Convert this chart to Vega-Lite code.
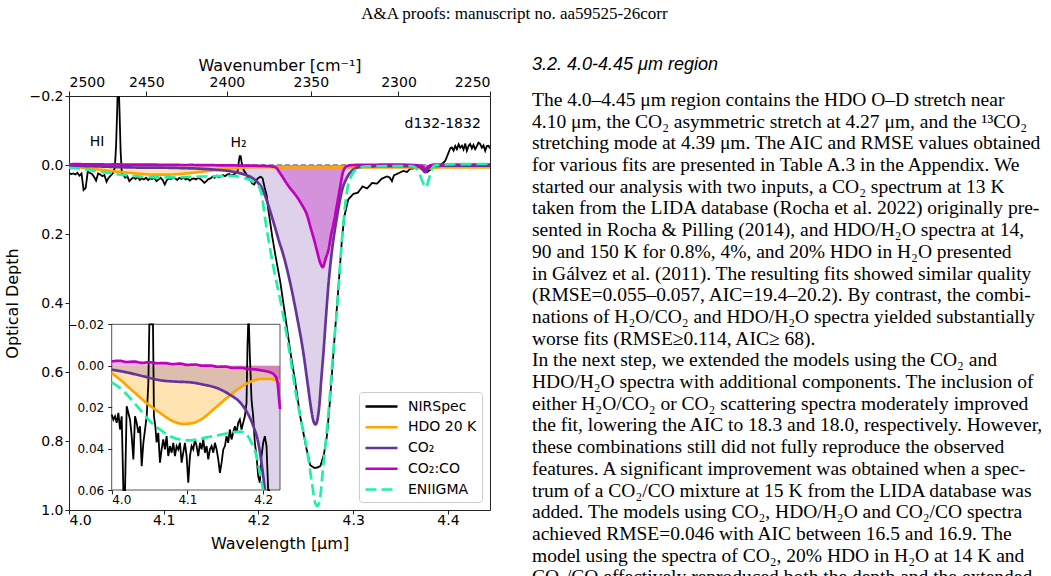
{
  "$schema": "https://vega.github.io/schema/vega-lite/v6.json",
  "background": "white",
  "padding": {"left": 3, "top": 4, "right": 0, "bottom": 0},
  "title": {"text": "A&A proofs: manuscript no. aa59525-26corr", "font": "Liberation Serif", "fontSize": 17, "fontWeight": "normal", "anchor": "middle", "offset": 33, "dx": -9, "color": "#000"},
  "spacing": 40,
  "resolve": {"scale": {"color": "independent", "strokeDash": "independent"}, "legend": {"color": "independent", "strokeDash": "independent"}},
  "datasets": {
    "spectra": [
      {"series":"NIRSpec","wl":4.0,"od":0.0236},{"series":"NIRSpec","wl":4.0022,"od":0.026},{"series":"NIRSpec","wl":4.0044,"od":0.0244},{"series":"NIRSpec","wl":4.0066,"od":0.0276},{"series":"NIRSpec","wl":4.0088,"od":0.0228},{"series":"NIRSpec","wl":4.011,"od":0.0308},{"series":"NIRSpec","wl":4.0132,"od":0.0244},{"series":"NIRSpec","wl":4.0154,"od":0.0725},{"series":"NIRSpec","wl":4.0176,"od":0.066},{"series":"NIRSpec","wl":4.0198,"od":0.0196},{"series":"NIRSpec","wl":4.022,"od":0.0228},{"series":"NIRSpec","wl":4.0242,"od":0.026},{"series":"NIRSpec","wl":4.0264,"od":0.034},{"series":"NIRSpec","wl":4.0286,"od":0.0452},{"series":"NIRSpec","wl":4.0308,"od":0.0244},{"series":"NIRSpec","wl":4.033,"od":0.0276},{"series":"NIRSpec","wl":4.0352,"od":0.0324},{"series":"NIRSpec","wl":4.0374,"od":0.0292},{"series":"NIRSpec","wl":4.0396,"od":0.0485},{"series":"NIRSpec","wl":4.0418,"od":0.0372},{"series":"NIRSpec","wl":4.044,"od":0.0308},{"series":"NIRSpec","wl":4.0462,"od":0.0244},{"series":"NIRSpec","wl":4.0484,"od":0.0083},{"series":"NIRSpec","wl":4.0497,"od":-0.056},{"series":"NIRSpec","wl":4.051,"od":-0.17},{"series":"NIRSpec","wl":4.0519,"od":-0.28},{"series":"NIRSpec","wl":4.0532,"od":-0.17},{"series":"NIRSpec","wl":4.0545,"od":-0.04},{"series":"NIRSpec","wl":4.0558,"od":0.0244},{"series":"NIRSpec","wl":4.0576,"od":0.0292},{"series":"NIRSpec","wl":4.0593,"od":0.037},{"series":"NIRSpec","wl":4.0615,"od":0.0324},{"series":"NIRSpec","wl":4.0637,"od":0.0468},{"series":"NIRSpec","wl":4.0659,"od":0.0404},{"series":"NIRSpec","wl":4.0681,"od":0.0356},{"series":"NIRSpec","wl":4.0703,"od":0.0404},{"series":"NIRSpec","wl":4.0725,"od":0.034},{"series":"NIRSpec","wl":4.0747,"od":0.0436},{"series":"NIRSpec","wl":4.0769,"od":0.0388},{"series":"NIRSpec","wl":4.0791,"od":0.042},{"series":"NIRSpec","wl":4.0813,"od":0.0372},{"series":"NIRSpec","wl":4.0835,"od":0.0436},{"series":"NIRSpec","wl":4.0857,"od":0.0388},{"series":"NIRSpec","wl":4.0879,"od":0.0404},{"series":"NIRSpec","wl":4.0901,"od":0.0372},{"series":"NIRSpec","wl":4.0923,"od":0.0468},{"series":"NIRSpec","wl":4.0945,"od":0.042},{"series":"NIRSpec","wl":4.0967,"od":0.0372},{"series":"NIRSpec","wl":4.0989,"od":0.0436},{"series":"NIRSpec","wl":4.1011,"od":0.0565},{"series":"NIRSpec","wl":4.1033,"od":0.0436},{"series":"NIRSpec","wl":4.1055,"od":0.0388},{"series":"NIRSpec","wl":4.1077,"od":0.0404},{"series":"NIRSpec","wl":4.1099,"od":0.0356},{"series":"NIRSpec","wl":4.1121,"od":0.0388},{"series":"NIRSpec","wl":4.1143,"od":0.0436},{"series":"NIRSpec","wl":4.1165,"od":0.0372},{"series":"NIRSpec","wl":4.1187,"od":0.0404},{"series":"NIRSpec","wl":4.1209,"od":0.0356},{"series":"NIRSpec","wl":4.1231,"od":0.042},{"series":"NIRSpec","wl":4.1253,"od":0.0388},{"series":"NIRSpec","wl":4.1275,"od":0.0452},{"series":"NIRSpec","wl":4.1297,"od":0.0404},{"series":"NIRSpec","wl":4.1319,"od":0.0388},{"series":"NIRSpec","wl":4.1341,"od":0.042},{"series":"NIRSpec","wl":4.1363,"od":0.0372},{"series":"NIRSpec","wl":4.1385,"od":0.0404},{"series":"NIRSpec","wl":4.1407,"od":0.0452},{"series":"NIRSpec","wl":4.1429,"od":0.0517},{"series":"NIRSpec","wl":4.1451,"od":0.0468},{"series":"NIRSpec","wl":4.1473,"od":0.0404},{"series":"NIRSpec","wl":4.1495,"od":0.0388},{"series":"NIRSpec","wl":4.1516,"od":0.034},{"series":"NIRSpec","wl":4.1538,"od":0.0372},{"series":"NIRSpec","wl":4.156,"od":0.0308},{"series":"NIRSpec","wl":4.1582,"od":0.0356},{"series":"NIRSpec","wl":4.1604,"od":0.0324},{"series":"NIRSpec","wl":4.1626,"od":0.0292},{"series":"NIRSpec","wl":4.1648,"od":0.0324},{"series":"NIRSpec","wl":4.167,"od":0.0276},{"series":"NIRSpec","wl":4.1692,"od":0.026},{"series":"NIRSpec","wl":4.1714,"od":0.0308},{"series":"NIRSpec","wl":4.1736,"od":0.0276},{"series":"NIRSpec","wl":4.1758,"od":0.0244},{"series":"NIRSpec","wl":4.178,"od":0.018},{"series":"NIRSpec","wl":4.1793,"od":-0.01},{"series":"NIRSpec","wl":4.1802,"od":-0.026},{"series":"NIRSpec","wl":4.1812,"od":-0.026},{"series":"NIRSpec","wl":4.1824,"od":-0.005},{"series":"NIRSpec","wl":4.1846,"od":0.0164},{"series":"NIRSpec","wl":4.1868,"od":0.0244},{"series":"NIRSpec","wl":4.189,"od":0.0372},{"series":"NIRSpec","wl":4.1912,"od":0.0436},{"series":"NIRSpec","wl":4.1934,"od":0.0533},{"series":"NIRSpec","wl":4.1956,"od":0.0565},{"series":"NIRSpec","wl":4.1978,"od":0.0436},{"series":"NIRSpec","wl":4.2,"od":0.0372},{"series":"NIRSpec","wl":4.2022,"od":0.034},{"series":"NIRSpec","wl":4.2044,"od":0.0388},{"series":"NIRSpec","wl":4.2066,"od":0.066},{"series":"NIRSpec","wl":4.2088,"od":0.089},{"series":"NIRSpec","wl":4.2104,"od":0.13},{"series":"NIRSpec","wl":4.2126,"od":0.17},{"series":"NIRSpec","wl":4.2147,"od":0.21},{"series":"NIRSpec","wl":4.2178,"od":0.26},{"series":"NIRSpec","wl":4.2231,"od":0.34},{"series":"NIRSpec","wl":4.2284,"od":0.44},{"series":"NIRSpec","wl":4.2336,"od":0.54},{"series":"NIRSpec","wl":4.2389,"od":0.63},{"series":"NIRSpec","wl":4.2442,"od":0.73},{"series":"NIRSpec","wl":4.2505,"od":0.82},{"series":"NIRSpec","wl":4.2547,"od":0.87},{"series":"NIRSpec","wl":4.2589,"od":0.878},{"series":"NIRSpec","wl":4.2621,"od":0.877},{"series":"NIRSpec","wl":4.2653,"od":0.873},{"series":"NIRSpec","wl":4.269,"od":0.84},{"series":"NIRSpec","wl":4.2722,"od":0.787},{"series":"NIRSpec","wl":4.2753,"od":0.69},{"series":"NIRSpec","wl":4.278,"od":0.59},{"series":"NIRSpec","wl":4.2806,"od":0.49},{"series":"NIRSpec","wl":4.2832,"od":0.4},{"series":"NIRSpec","wl":4.2859,"od":0.3},{"series":"NIRSpec","wl":4.288,"od":0.22},{"series":"NIRSpec","wl":4.2906,"od":0.15},{"series":"NIRSpec","wl":4.2948,"od":0.1},{"series":"NIRSpec","wl":4.3001,"od":0.084},{"series":"NIRSpec","wl":4.305,"od":0.08},{"series":"NIRSpec","wl":4.31,"od":0.062},{"series":"NIRSpec","wl":4.3146,"od":0.068},{"series":"NIRSpec","wl":4.32,"od":0.052},{"series":"NIRSpec","wl":4.3251,"od":0.054},{"series":"NIRSpec","wl":4.33,"od":0.04},{"series":"NIRSpec","wl":4.3357,"od":0.033},{"series":"NIRSpec","wl":4.3385,"od":0.036},{"series":"NIRSpec","wl":4.3409,"od":0.047},{"series":"NIRSpec","wl":4.343,"od":0.03},{"series":"NIRSpec","wl":4.3462,"od":0.026},{"series":"NIRSpec","wl":4.35,"od":0.021},{"series":"NIRSpec","wl":4.3532,"od":0.017},{"series":"NIRSpec","wl":4.357,"od":0.02},{"series":"NIRSpec","wl":4.3602,"od":0.011},{"series":"NIRSpec","wl":4.364,"od":0.01},{"series":"NIRSpec","wl":4.3673,"od":0.006},{"series":"NIRSpec","wl":4.3726,"od":0.012},{"series":"NIRSpec","wl":4.3779,"od":0.021},{"series":"NIRSpec","wl":4.3848,"od":0.007},{"series":"NIRSpec","wl":4.3919,"od":0.002},{"series":"NIRSpec","wl":4.3972,"od":-0.012},{"series":"NIRSpec","wl":4.4007,"od":-0.036},{"series":"NIRSpec","wl":4.4025,"od":-0.048},{"series":"NIRSpec","wl":4.4042,"od":-0.051},{"series":"NIRSpec","wl":4.406,"od":-0.042},{"series":"NIRSpec","wl":4.4078,"od":-0.055},{"series":"NIRSpec","wl":4.4095,"od":-0.046},{"series":"NIRSpec","wl":4.4113,"od":-0.06},{"series":"NIRSpec","wl":4.413,"od":-0.05},{"series":"NIRSpec","wl":4.4148,"od":-0.056},{"series":"NIRSpec","wl":4.4165,"od":-0.045},{"series":"NIRSpec","wl":4.4183,"od":-0.062},{"series":"NIRSpec","wl":4.42,"od":-0.041},{"series":"NIRSpec","wl":4.4218,"od":-0.055},{"series":"NIRSpec","wl":4.4235,"od":-0.061},{"series":"NIRSpec","wl":4.4253,"od":-0.048},{"series":"NIRSpec","wl":4.427,"od":-0.058},{"series":"NIRSpec","wl":4.4288,"od":-0.046},{"series":"NIRSpec","wl":4.4305,"od":-0.054},{"series":"NIRSpec","wl":4.4323,"od":-0.065},{"series":"NIRSpec","wl":4.4341,"od":-0.061},{"series":"NIRSpec","wl":4.4358,"od":-0.05},{"series":"NIRSpec","wl":4.4376,"od":-0.057},{"series":"NIRSpec","wl":4.4394,"od":-0.041},{"series":"NIRSpec","wl":4.4411,"od":-0.055},{"series":"NIRSpec","wl":4.4429,"od":-0.056},{"series":"NIRSpec","wl":4.4444,"od":-0.048},

      {"series":"HDO 20 K","wl":4.0,"od":0.0035},{"series":"HDO 20 K","wl":4.011,"od":0.0067},{"series":"HDO 20 K","wl":4.0286,"od":0.0124},{"series":"HDO 20 K","wl":4.046,"od":0.018},{"series":"HDO 20 K","wl":4.064,"od":0.0228},{"series":"HDO 20 K","wl":4.081,"od":0.0268},{"series":"HDO 20 K","wl":4.095,"od":0.0281},{"series":"HDO 20 K","wl":4.108,"od":0.0276},{"series":"HDO 20 K","wl":4.121,"od":0.0252},{"series":"HDO 20 K","wl":4.134,"od":0.0212},{"series":"HDO 20 K","wl":4.152,"od":0.0156},{"series":"HDO 20 K","wl":4.169,"od":0.0107},{"series":"HDO 20 K","wl":4.182,"od":0.008},{"series":"HDO 20 K","wl":4.196,"od":0.0064},{"series":"HDO 20 K","wl":4.209,"od":0.0064},{"series":"HDO 20 K","wl":4.2176,"od":0.007},{"series":"HDO 20 K","wl":4.2222,"od":0.0072},{"series":"HDO 20 K","wl":4.26,"od":0.0072},{"series":"HDO 20 K","wl":4.3,"od":0.007},{"series":"HDO 20 K","wl":4.36,"od":0.007},{"series":"HDO 20 K","wl":4.372,"od":0.008},{"series":"HDO 20 K","wl":4.377,"od":0.011},{"series":"HDO 20 K","wl":4.382,"od":0.008},{"series":"HDO 20 K","wl":4.4,"od":0.007},{"series":"HDO 20 K","wl":4.4444,"od":0.007},

      {"series":"CO₂","wl":4.0,"od":0.0019},{"series":"CO₂","wl":4.0198,"od":0.0032},{"series":"CO₂","wl":4.0418,"od":0.0051},{"series":"CO₂","wl":4.0637,"od":0.007},{"series":"CO₂","wl":4.0857,"od":0.0077},{"series":"CO₂","wl":4.1033,"od":0.008},{"series":"CO₂","wl":4.1209,"od":0.0091},{"series":"CO₂","wl":4.1385,"od":0.0107},{"series":"CO₂","wl":4.156,"od":0.014},{"series":"CO₂","wl":4.1692,"od":0.0176},{"series":"CO₂","wl":4.178,"od":0.022},{"series":"CO₂","wl":4.1868,"od":0.029},{"series":"CO₂","wl":4.1934,"od":0.037},{"series":"CO₂","wl":4.1978,"od":0.047},{"series":"CO₂","wl":4.2,"od":0.053},{"series":"CO₂","wl":4.2022,"od":0.06},{"series":"CO₂","wl":4.205,"od":0.075},{"series":"CO₂","wl":4.21,"od":0.113},{"series":"CO₂","wl":4.2143,"od":0.151},{"series":"CO₂","wl":4.2185,"od":0.19},{"series":"CO₂","wl":4.2222,"od":0.225},{"series":"CO₂","wl":4.2249,"od":0.248},{"series":"CO₂","wl":4.2336,"od":0.343},{"series":"CO₂","wl":4.2407,"od":0.44},{"series":"CO₂","wl":4.247,"od":0.537},{"series":"CO₂","wl":4.2519,"od":0.633},{"series":"CO₂","wl":4.2558,"od":0.71},{"series":"CO₂","wl":4.258,"od":0.742},{"series":"CO₂","wl":4.2603,"od":0.752},{"series":"CO₂","wl":4.2625,"od":0.735},{"series":"CO₂","wl":4.2645,"od":0.69},{"series":"CO₂","wl":4.266,"od":0.633},{"series":"CO₂","wl":4.2688,"od":0.537},{"series":"CO₂","wl":4.2713,"od":0.44},{"series":"CO₂","wl":4.274,"od":0.343},{"series":"CO₂","wl":4.2776,"od":0.248},{"series":"CO₂","wl":4.2829,"od":0.151},{"series":"CO₂","wl":4.2882,"od":0.074},{"series":"CO₂","wl":4.2935,"od":0.036},{"series":"CO₂","wl":4.2987,"od":0.017},{"series":"CO₂","wl":4.304,"od":0.008},{"series":"CO₂","wl":4.3146,"od":0.004},{"series":"CO₂","wl":4.36,"od":0.003},{"series":"CO₂","wl":4.3708,"od":0.006},{"series":"CO₂","wl":4.3761,"od":0.021},{"series":"CO₂","wl":4.3792,"od":0.01},{"series":"CO₂","wl":4.3831,"od":0.003},{"series":"CO₂","wl":4.4,"od":0.002},{"series":"CO₂","wl":4.4444,"od":0.002},

      {"series":"CO₂:CO","wl":4.0,"od":-0.0021},{"series":"CO₂:CO","wl":4.01,"od":-0.0024},{"series":"CO₂:CO","wl":4.02,"od":-0.0018},{"series":"CO₂:CO","wl":4.03,"od":-0.002},{"series":"CO₂:CO","wl":4.04,"od":-0.0014},{"series":"CO₂:CO","wl":4.05,"od":-0.0017},{"series":"CO₂:CO","wl":4.06,"od":-0.0012},{"series":"CO₂:CO","wl":4.07,"od":-0.0013},{"series":"CO₂:CO","wl":4.08,"od":-0.0008},{"series":"CO₂:CO","wl":4.09,"od":-0.001},{"series":"CO₂:CO","wl":4.1,"od":-0.0004},{"series":"CO₂:CO","wl":4.11,"od":-0.0006},{"series":"CO₂:CO","wl":4.12,"od":0.0},{"series":"CO₂:CO","wl":4.13,"od":-0.0001},{"series":"CO₂:CO","wl":4.14,"od":0.0005},{"series":"CO₂:CO","wl":4.15,"od":0.0004},{"series":"CO₂:CO","wl":4.16,"od":0.0011},{"series":"CO₂:CO","wl":4.17,"od":0.001},{"series":"CO₂:CO","wl":4.18,"od":0.0016},{"series":"CO₂:CO","wl":4.19,"od":0.0018},{"series":"CO₂:CO","wl":4.2,"od":0.0024},{"series":"CO₂:CO","wl":4.205,"od":0.0027},{"series":"CO₂:CO","wl":4.21,"od":0.0033},{"series":"CO₂:CO","wl":4.2132,"od":0.0039},{"series":"CO₂:CO","wl":4.2155,"od":0.0048},{"series":"CO₂:CO","wl":4.2176,"od":0.006},{"series":"CO₂:CO","wl":4.2195,"od":0.01},{"series":"CO₂:CO","wl":4.2207,"od":0.015},{"series":"CO₂:CO","wl":4.2222,"od":0.021},{"series":"CO₂:CO","wl":4.2302,"od":0.055},{"series":"CO₂:CO","wl":4.2447,"od":0.11},{"series":"CO₂:CO","wl":4.2519,"od":0.15},{"series":"CO₂:CO","wl":4.2549,"od":0.18},{"series":"CO₂:CO","wl":4.2591,"od":0.22},{"series":"CO₂:CO","wl":4.2619,"od":0.25},{"series":"CO₂:CO","wl":4.2654,"od":0.285},{"series":"CO₂:CO","wl":4.2678,"od":0.296},{"series":"CO₂:CO","wl":4.2711,"od":0.27},{"series":"CO₂:CO","wl":4.274,"od":0.245},{"series":"CO₂:CO","wl":4.2769,"od":0.2},{"series":"CO₂:CO","wl":4.2793,"od":0.17},{"series":"CO₂:CO","wl":4.2836,"od":0.105},{"series":"CO₂:CO","wl":4.2865,"od":0.06},{"series":"CO₂:CO","wl":4.2893,"od":0.02},{"series":"CO₂:CO","wl":4.2935,"od":0.003},{"series":"CO₂:CO","wl":4.3,"od":0.0},{"series":"CO₂:CO","wl":4.35,"od":-0.001},{"series":"CO₂:CO","wl":4.372,"od":0.002},{"series":"CO₂:CO","wl":4.3765,"od":0.012},{"series":"CO₂:CO","wl":4.3795,"od":0.004},{"series":"CO₂:CO","wl":4.385,"od":-0.001},{"series":"CO₂:CO","wl":4.4444,"od":-0.001},

      {"series":"ENIIGMA","wl":4.0,"od":0.008},{"series":"ENIIGMA","wl":4.011,"od":0.0107},{"series":"ENIIGMA","wl":4.0242,"od":0.0156},{"series":"ENIIGMA","wl":4.0374,"od":0.0212},{"series":"ENIIGMA","wl":4.0505,"od":0.0268},{"series":"ENIIGMA","wl":4.0637,"od":0.0308},{"series":"ENIIGMA","wl":4.0769,"od":0.034},{"series":"ENIIGMA","wl":4.0901,"od":0.0356},{"series":"ENIIGMA","wl":4.1033,"od":0.036},{"series":"ENIIGMA","wl":4.1165,"od":0.0353},{"series":"ENIIGMA","wl":4.1297,"od":0.0343},{"series":"ENIIGMA","wl":4.1429,"od":0.0334},{"series":"ENIIGMA","wl":4.156,"od":0.0324},{"series":"ENIIGMA","wl":4.1692,"od":0.0318},{"series":"ENIIGMA","wl":4.178,"od":0.0332},{"series":"ENIIGMA","wl":4.1846,"od":0.0372},{"series":"ENIIGMA","wl":4.1912,"od":0.0436},{"series":"ENIIGMA","wl":4.1956,"od":0.0517},{"series":"ENIIGMA","wl":4.2,"od":0.06},{"series":"ENIIGMA","wl":4.2033,"od":0.085},{"series":"ENIIGMA","wl":4.2073,"od":0.16},{"series":"ENIIGMA","wl":4.2126,"od":0.248},{"series":"ENIIGMA","wl":4.2179,"od":0.325},{"series":"ENIIGMA","wl":4.2231,"od":0.392},{"series":"ENIIGMA","wl":4.2284,"od":0.47},{"series":"ENIIGMA","wl":4.2336,"od":0.556},{"series":"ENIIGMA","wl":4.2389,"od":0.652},{"series":"ENIIGMA","wl":4.2442,"od":0.73},{"series":"ENIIGMA","wl":4.2513,"od":0.826},{"series":"ENIIGMA","wl":4.2565,"od":0.922},{"series":"ENIIGMA","wl":4.26,"od":0.98},{"series":"ENIIGMA","wl":4.2625,"od":0.988},{"series":"ENIIGMA","wl":4.2653,"od":0.96},{"series":"ENIIGMA","wl":4.268,"od":0.884},{"series":"ENIIGMA","wl":4.2716,"od":0.787},{"series":"ENIIGMA","wl":4.2748,"od":0.69},{"series":"ENIIGMA","wl":4.2774,"od":0.594},{"series":"ENIIGMA","wl":4.2806,"od":0.489},{"series":"ENIIGMA","wl":4.2835,"od":0.4},{"series":"ENIIGMA","wl":4.2864,"od":0.28},{"series":"ENIIGMA","wl":4.2899,"od":0.16},{"series":"ENIIGMA","wl":4.2935,"od":0.075},{"series":"ENIIGMA","wl":4.2987,"od":0.028},{"series":"ENIIGMA","wl":4.304,"od":0.012},{"series":"ENIIGMA","wl":4.3146,"od":0.004},{"series":"ENIIGMA","wl":4.362,"od":0.003},{"series":"ENIIGMA","wl":4.3673,"od":0.012},{"series":"ENIIGMA","wl":4.3708,"od":0.031},{"series":"ENIIGMA","wl":4.3743,"od":0.055},{"series":"ENIIGMA","wl":4.3771,"od":0.065},{"series":"ENIIGMA","wl":4.3795,"od":0.045},{"series":"ENIIGMA","wl":4.3831,"od":0.012},{"series":"ENIIGMA","wl":4.3866,"od":0.001},{"series":"ENIIGMA","wl":4.4,"od":-0.002},{"series":"ENIIGMA","wl":4.4444,"od":-0.003}
    ],
    "notes": [
      {"label": "HI", "wl": 4.0297, "od": -0.066},
      {"label": "H₂", "wl": 4.179, "od": -0.064},
      {"label": "d132-1832", "wl": 4.3945, "od": -0.118}
    ],
    "paragraph": [
      {"line": 1, "text": "The 4.0–4.45 μm region contains the HDO O–D stretch near"},
      {"line": 2, "text": "4.10 μm, the CO₂ asymmetric stretch at 4.27 μm, and the ¹³CO₂"},
      {"line": 3, "text": "stretching mode at 4.39 μm. The AIC and RMSE values obtained"},
      {"line": 4, "text": "for various fits are presented in Table A.3 in the Appendix. We"},
      {"line": 5, "text": "started our analysis with two inputs, a CO₂ spectrum at 13 K"},
      {"line": 6, "text": "taken from the LIDA database (Rocha et al. 2022) originally pre-"},
      {"line": 7, "text": "sented in Rocha & Pilling (2014), and HDO/H₂O spectra at 14,"},
      {"line": 8, "text": "90 and 150 K for 0.8%, 4%, and 20% HDO in H₂O presented"},
      {"line": 9, "text": "in Gálvez et al. (2011). The resulting fits showed similar quality"},
      {"line": 10, "text": "(RMSE=0.055–0.057, AIC=19.4–20.2). By contrast, the combi-"},
      {"line": 11, "text": "nations of H₂O/CO₂ and HDO/H₂O spectra yielded substantially"},
      {"line": 12, "text": "worse fits (RMSE≥0.114, AIC≥ 68)."},
      {"line": 13, "text": "\u00a0\u00a0\u00a0\u00a0\u00a0\u00a0In the next step, we extended the models using the CO₂ and"},
      {"line": 14, "text": "HDO/H₂O spectra with additional components. The inclusion of"},
      {"line": 15, "text": "either H₂O/CO₂ or CO₂ scattering spectra moderately improved"},
      {"line": 16, "text": "the fit, lowering the AIC to 18.3 and 18.0, respectively. However,"},
      {"line": 17, "text": "these combinations still did not fully reproduce the observed"},
      {"line": 18, "text": "features. A significant improvement was obtained when a spec-"},
      {"line": 19, "text": "trum of a CO₂/CO mixture at 15 K from the LIDA database was"},
      {"line": 20, "text": "added. The models using CO₂, HDO/H₂O and CO₂/CO spectra"},
      {"line": 21, "text": "achieved RMSE=0.046 with AIC between 16.5 and 16.9. The"},
      {"line": 22, "text": "model using the spectra of CO₂, 20% HDO in H₂O at 14 K and"},
      {"line": 23, "text": "CO₂/CO effectively reproduced both the depth and the extended"}
    ]
  },
  "hconcat": [
    {
      "width": 421,
      "height": 414,
      "view": {"stroke": "#222", "strokeWidth": 1},
      "resolve": {"scale": {"x": "independent", "y": "independent"}},
      "layer": [
        {
          "data": {"name": "spectra"},
          "resolve": {"axis": {"x": "independent", "y": "independent"}},
          "layer": [
            {
              "transform": [{"filter": "datum.series == 'HDO 20 K'"}],
              "mark": {"type": "area", "color": "#ffa500", "opacity": 0.3, "clip": true, "interpolate": "monotone"},
              "encoding": {
                "x": {"field": "wl", "type": "quantitative", "scale": {"domain": [4, 4.4444445], "nice": false, "zero": false},
                      "axis": {"orient": "bottom", "values": [4.0, 4.1, 4.2, 4.3, 4.4], "format": ".1f", "title": "Wavelength [µm]", "labelFontSize": 14, "titleFontSize": 16, "tickSize": 4, "labelPadding": -1, "titlePadding": 8, "domain": false}},
                "y": {"field": "od", "type": "quantitative", "scale": {"domain": [-0.2, 1.0], "reverse": true, "nice": false, "zero": false},
                      "axis": {"orient": "left", "values": [-0.2, 0, 0.2, 0.4, 0.6, 0.8, 1.0], "format": ".1f", "title": "Optical Depth", "labelFontSize": 14, "titleFontSize": 16, "tickSize": 4, "labelPadding": 2, "titlePadding": 9, "domain": false}},
                "y2": {"datum": 0}
              }
            },
            {
              "transform": [{"filter": "datum.series == 'CO₂'"}],
              "mark": {"type": "area", "color": "#663399", "opacity": 0.22, "clip": true, "interpolate": "monotone"},
              "encoding": {
                "x": {"field": "wl", "type": "quantitative", "scale": {"domain": [4, 4.4444445], "nice": false, "zero": false}, "axis": null},
                "y": {"field": "od", "type": "quantitative", "scale": {"domain": [-0.2, 1.0], "reverse": true, "nice": false, "zero": false}, "axis": null},
                "y2": {"datum": 0}
              }
            },
            {
              "transform": [{"filter": "datum.series == 'CO₂:CO'"}],
              "mark": {"type": "area", "color": "#bf00bf", "opacity": 0.3, "clip": true, "interpolate": "monotone"},
              "encoding": {
                "x": {"field": "wl", "type": "quantitative", "scale": {"domain": [4, 4.4444445], "nice": false, "zero": false}, "axis": null},
                "y": {"field": "od", "type": "quantitative", "scale": {"domain": [-0.2, 1.0], "reverse": true, "nice": false, "zero": false}, "axis": null},
                "y2": {"datum": 0}
              }
            },
            {
              "mark": {"type": "rule", "color": "#999", "strokeDash": [5, 3], "strokeWidth": 1.3},
              "encoding": {
                "y": {"datum": 0, "type": "quantitative", "scale": {"domain": [-0.2, 1.0], "reverse": true, "nice": false, "zero": false}, "axis": null}
              }
            },
            {
              "transform": [{"filter": "datum.series == 'NIRSpec'"}],
              "mark": {"type": "line", "strokeWidth": 1.8, "clip": true},
              "encoding": {
                "x": {"field": "wl", "type": "quantitative", "scale": {"domain": [4, 4.4444445], "nice": false, "zero": false}, "axis": null},
                "y": {"field": "od", "type": "quantitative", "scale": {"domain": [-0.2, 1.0], "reverse": true, "nice": false, "zero": false}, "axis": null},
                "color": {"field": "series", "type": "nominal", "scale": {"domain": ["NIRSpec", "HDO 20 K", "CO₂", "CO₂:CO", "ENIIGMA"], "range": ["#000000", "#ffa500", "#663399", "#bf00bf", "#1ef0aa"]}, "legend": {"title": null, "orient": "bottom-right", "offset": 8}},
                "strokeDash": {"field": "series", "type": "nominal", "scale": {"domain": ["NIRSpec", "HDO 20 K", "CO₂", "CO₂:CO", "ENIIGMA"], "range": [[1, 0], [1, 0], [1, 0], [1, 0], [11, 5]]}, "legend": {"title": null, "orient": "bottom-right", "offset": 8}}
              }
            },
            {
              "transform": [{"filter": "datum.series != 'NIRSpec'"}],
              "mark": {"type": "line", "strokeWidth": 2.7, "clip": true, "interpolate": "monotone"},
              "encoding": {
                "x": {"field": "wl", "type": "quantitative", "scale": {"domain": [4, 4.4444445], "nice": false, "zero": false}, "axis": null},
                "y": {"field": "od", "type": "quantitative", "scale": {"domain": [-0.2, 1.0], "reverse": true, "nice": false, "zero": false}, "axis": null},
                "color": {"field": "series", "type": "nominal", "scale": {"domain": ["NIRSpec", "HDO 20 K", "CO₂", "CO₂:CO", "ENIIGMA"], "range": ["#000000", "#ffa500", "#663399", "#bf00bf", "#1ef0aa"]}, "legend": {"title": null, "orient": "bottom-right", "offset": 8}},
                "strokeDash": {"field": "series", "type": "nominal", "scale": {"domain": ["NIRSpec", "HDO 20 K", "CO₂", "CO₂:CO", "ENIIGMA"], "range": [[1, 0], [1, 0], [1, 0], [1, 0], [11, 5]]}, "legend": {"title": null, "orient": "bottom-right", "offset": 8}}
              }
            },
            {
              "data": {"name": "notes"},
              "mark": {"type": "text", "font": "DejaVu Sans", "fontSize": 14, "align": "center", "baseline": "middle", "color": "#000"},
              "encoding": {
                "x": {"field": "wl", "type": "quantitative", "scale": {"domain": [4, 4.4444445], "nice": false, "zero": false},
                      "axis": {"orient": "top", "values": [4.0, 4.0816327, 4.1666667, 4.2553191, 4.3478261, 4.4444444], "labelExpr": "format(10000/datum.value, '.0f')", "title": "Wavenumber [cm⁻¹]", "labelFontSize": 14, "titleFontSize": 16, "tickSize": 5, "labelPadding": 2, "titlePadding": 2, "domain": false}},
                "y": {"field": "od", "type": "quantitative", "scale": {"domain": [-0.2, 1.0], "reverse": true, "nice": false, "zero": false}, "axis": null},
                "text": {"field": "label"}
              }
            }
          ]
        },
        {
          "resolve": {"axis": {"x": "independent", "y": "independent"}},
          "layer": [
            {
              "data": {"values": [{}]},
              "mark": {"type": "rect", "fill": "white", "stroke": "#555", "strokeWidth": 1},
              "encoding": {
                "x": {"datum": 4.0, "type": "quantitative", "scale": {"domain": [4.0, 4.2222], "range": [42.7, 211], "nice": false, "zero": false, "clamp": true},
                      "axis": {"orient": "bottom", "offset": -20, "values": [4.0, 4.1, 4.2], "format": ".1f", "title": null, "labelFontSize": 12, "tickSize": 4, "labelPadding": 0.5, "domain": false, "zindex": 1}},
                "x2": {"datum": 4.2222},
                "y": {"datum": -0.02, "type": "quantitative", "scale": {"domain": [-0.02, 0.06], "range": [228.3, 394], "nice": false, "zero": false, "clamp": true},
                      "axis": {"orient": "left", "offset": -42.7, "values": [-0.02, 0, 0.02, 0.04, 0.06], "format": ".2f", "title": null, "labelFontSize": 12, "tickSize": 4, "labelPadding": 4, "domain": false, "zindex": 1}},
                "y2": {"datum": 0.06}
              }
            },
            {
              "data": {"name": "spectra"},
              "transform": [{"filter": "datum.series == 'HDO 20 K' && datum.wl <= 4.2225"}],
              "mark": {"type": "area", "color": "#ffa500", "opacity": 0.3, "interpolate": "monotone"},
              "encoding": {
                "x": {"field": "wl", "type": "quantitative", "scale": {"domain": [4.0, 4.2222], "range": [42.7, 211], "nice": false, "zero": false, "clamp": true}, "axis": null},
                "y": {"field": "od", "type": "quantitative", "scale": {"domain": [-0.02, 0.06], "range": [228.3, 394], "nice": false, "zero": false, "clamp": true}, "axis": null},
                "y2": {"datum": 0}
              }
            },
            {
              "data": {"name": "spectra"},
              "transform": [{"filter": "datum.series == 'CO₂' && datum.wl <= 4.2225"}],
              "mark": {"type": "area", "color": "#663399", "opacity": 0.22, "interpolate": "monotone"},
              "encoding": {
                "x": {"field": "wl", "type": "quantitative", "scale": {"domain": [4.0, 4.2222], "range": [42.7, 211], "nice": false, "zero": false, "clamp": true}, "axis": null},
                "y": {"field": "od", "type": "quantitative", "scale": {"domain": [-0.02, 0.06], "range": [228.3, 394], "nice": false, "zero": false, "clamp": true}, "axis": null},
                "y2": {"datum": 0}
              }
            },
            {
              "data": {"name": "spectra"},
              "transform": [{"filter": "datum.series == 'CO₂:CO' && datum.wl <= 4.2225"}],
              "mark": {"type": "area", "color": "#bf00bf", "opacity": 0.3, "interpolate": "monotone"},
              "encoding": {
                "x": {"field": "wl", "type": "quantitative", "scale": {"domain": [4.0, 4.2222], "range": [42.7, 211], "nice": false, "zero": false, "clamp": true}, "axis": null},
                "y": {"field": "od", "type": "quantitative", "scale": {"domain": [-0.02, 0.06], "range": [228.3, 394], "nice": false, "zero": false, "clamp": true}, "axis": null},
                "y2": {"datum": 0}
              }
            },
            {
              "data": {"name": "spectra"},
              "transform": [{"filter": "datum.series == 'NIRSpec' && datum.wl <= 4.2095"}],
              "mark": {"type": "line", "strokeWidth": 1.8},
              "encoding": {
                "x": {"field": "wl", "type": "quantitative", "scale": {"domain": [4.0, 4.2222], "range": [42.7, 211], "nice": false, "zero": false, "clamp": true}, "axis": null},
                "y": {"field": "od", "type": "quantitative", "scale": {"domain": [-0.02, 0.06], "range": [228.3, 394], "nice": false, "zero": false, "clamp": true}, "axis": null},
                "color": {"field": "series", "type": "nominal", "scale": {"domain": ["NIRSpec", "HDO 20 K", "CO₂", "CO₂:CO", "ENIIGMA"], "range": ["#000000", "#ffa500", "#663399", "#bf00bf", "#1ef0aa"]}, "legend": null}
              }
            },
            {
              "data": {"name": "spectra"},
              "transform": [{"filter": "datum.series != 'NIRSpec' && datum.wl <= (datum.series == 'CO₂' ? 4.2025 : datum.series == 'ENIIGMA' ? 4.2005 : 4.2225)"}],
              "mark": {"type": "line", "strokeWidth": 2.7, "interpolate": "monotone"},
              "encoding": {
                "x": {"field": "wl", "type": "quantitative", "scale": {"domain": [4.0, 4.2222], "range": [42.7, 211], "nice": false, "zero": false, "clamp": true}, "axis": null},
                "y": {"field": "od", "type": "quantitative", "scale": {"domain": [-0.02, 0.06], "range": [228.3, 394], "nice": false, "zero": false, "clamp": true}, "axis": null},
                "color": {"field": "series", "type": "nominal", "scale": {"domain": ["NIRSpec", "HDO 20 K", "CO₂", "CO₂:CO", "ENIIGMA"], "range": ["#000000", "#ffa500", "#663399", "#bf00bf", "#1ef0aa"]}, "legend": null},
                "strokeDash": {"field": "series", "type": "nominal", "scale": {"domain": ["NIRSpec", "HDO 20 K", "CO₂", "CO₂:CO", "ENIIGMA"], "range": [[1, 0], [1, 0], [1, 0], [1, 0], [11, 5]]}, "legend": null}
              }
            }
          ]
        }
      ]
    },
    {
      "width": 505,
      "height": 481.4,
      "view": {"stroke": null},
      "title": {"text": "3.2. 4.0-4.45 μm region", "anchor": "start", "font": "Liberation Sans", "fontStyle": "italic", "fontSize": 18, "fontWeight": "normal", "color": "#000", "offset": 16},
      "data": {"name": "paragraph"},
      "mark": {"type": "text", "align": "left", "baseline": "middle", "font": "Liberation Serif", "fontSize": 19.5, "color": "#000"},
      "encoding": {
        "x": {"datum": 0, "type": "quantitative", "scale": {"domain": [0, 1], "nice": false}, "axis": null},
        "y": {"field": "line", "type": "quantitative", "scale": {"domain": [0.8157, 23], "reverse": true, "nice": false, "zero": false}, "axis": null},
        "text": {"field": "text"}
      }
    }
  ],
  "config": {
    "font": "DejaVu Sans",
    "view": {"stroke": null},
    "axis": {"labelFont": "DejaVu Sans", "titleFont": "DejaVu Sans", "labelColor": "#000", "titleColor": "#000", "titleFontWeight": "normal", "tickColor": "#222", "grid": false},
    "legend": {"orient": "bottom-right", "offset": 8, "padding": 5, "strokeColor": "#ccc", "fillColor": "#fff", "cornerRadius": 3, "labelFont": "DejaVu Sans", "labelFontSize": 14, "labelColor": "#000", "symbolType": "M-1,0H3", "symbolSize": 256, "symbolStrokeWidth": 2.7, "rowPadding": 3.75, "labelOffset": 25}
  }
}
